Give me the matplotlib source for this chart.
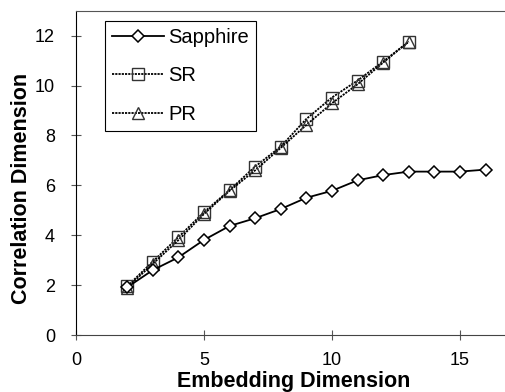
import matplotlib
matplotlib.use("Agg")
import matplotlib.pyplot as plt

plt.rcParams['font.family'] = ['Liberation Sans', 'DejaVu Sans']

# embedding dimension
x_sapphire = [2, 3, 4, 5, 6, 7, 8, 9, 10, 11, 12, 13, 14, 15, 16]
x_sr = [2, 3, 4, 5, 6, 7, 8, 9, 10, 11, 12, 13]
x_pr = [2, 3, 4, 5, 6, 7, 8, 9, 10, 11, 12, 13]

# correlation dimension
y_sapphire = [1.91, 2.6, 3.11, 3.81, 4.37, 4.68, 5.05, 5.5, 5.78, 6.2, 6.41, 6.55, 6.55, 6.55, 6.63]
y_sr = [1.95, 2.94, 3.92, 4.92, 5.81, 6.75, 7.55, 8.66, 9.52, 10.2, 10.96, 11.76]
y_pr = [1.9, 2.85, 3.8, 4.85, 5.78, 6.6, 7.5, 8.42, 9.29, 10.05, 10.92, 11.76]

fig = plt.figure(figsize=(5.06, 3.92), dpi=100)
ax = fig.add_axes([0.150, 0.1454, 0.85, 0.8273])

ax.plot(x_sapphire, y_sapphire, color="black", lw=1.3, marker="D", markersize=6.5,
        markerfacecolor="white", markeredgecolor="black", markeredgewidth=1.1,
        label="Sapphire", zorder=3)
ax.plot(x_sr, y_sr, color="black", lw=1.3, ls=(0, (1.2, 0.6)), marker="s", markersize=8.5,
        markerfacecolor="none", markeredgecolor="#333333", markeredgewidth=1.0,
        label="SR", zorder=2)
ax.plot(x_pr, y_pr, color="black", lw=1.3, ls=(0, (1.2, 0.6)), marker="^", markersize=8,
        markerfacecolor="none", markeredgecolor="#333333", markeredgewidth=1.0,
        label="PR", zorder=2)

ax.set_xlim(0, 16.8)
ax.set_ylim(0, 13)
ax.set_xticks([0, 5, 10, 15])
ax.set_yticks([0, 2, 4, 6, 8, 10, 12])
ax.tick_params(direction="inout", length=7, width=0.8, labelsize=13, color="#555555")
ax.tick_params(axis="x", pad=8.5)
ax.tick_params(axis="y", pad=11.5)

ax.spines["right"].set_visible(False)
ax.spines["top"].set_linestyle((0, (1, 1)))
ax.spines["top"].set_color("#555555")
ax.spines["bottom"].set_linestyle((0, (1, 1)))
ax.spines["bottom"].set_color("#444444")
ax.spines["left"].set_color("black")

ax.set_xlabel("Embedding Dimension", fontsize=15.5, fontweight="bold")
ax.set_ylabel("Correlation Dimension", fontsize=15.5, fontweight="bold")
ax.xaxis.set_label_coords(0.506, -0.11)
ax.yaxis.set_label_coords(-0.101, 0.453)

leg = ax.legend(loc="upper left", bbox_to_anchor=(0.067, 0.969), fontsize=14.5,
                fancybox=False, framealpha=1, edgecolor="black",
                handlelength=2.6, labelspacing=0.97, borderpad=0.35,
                handletextpad=0.2, borderaxespad=0)
leg.get_frame().set_linewidth(0.8)

fig.savefig("out.png", dpi=100)
